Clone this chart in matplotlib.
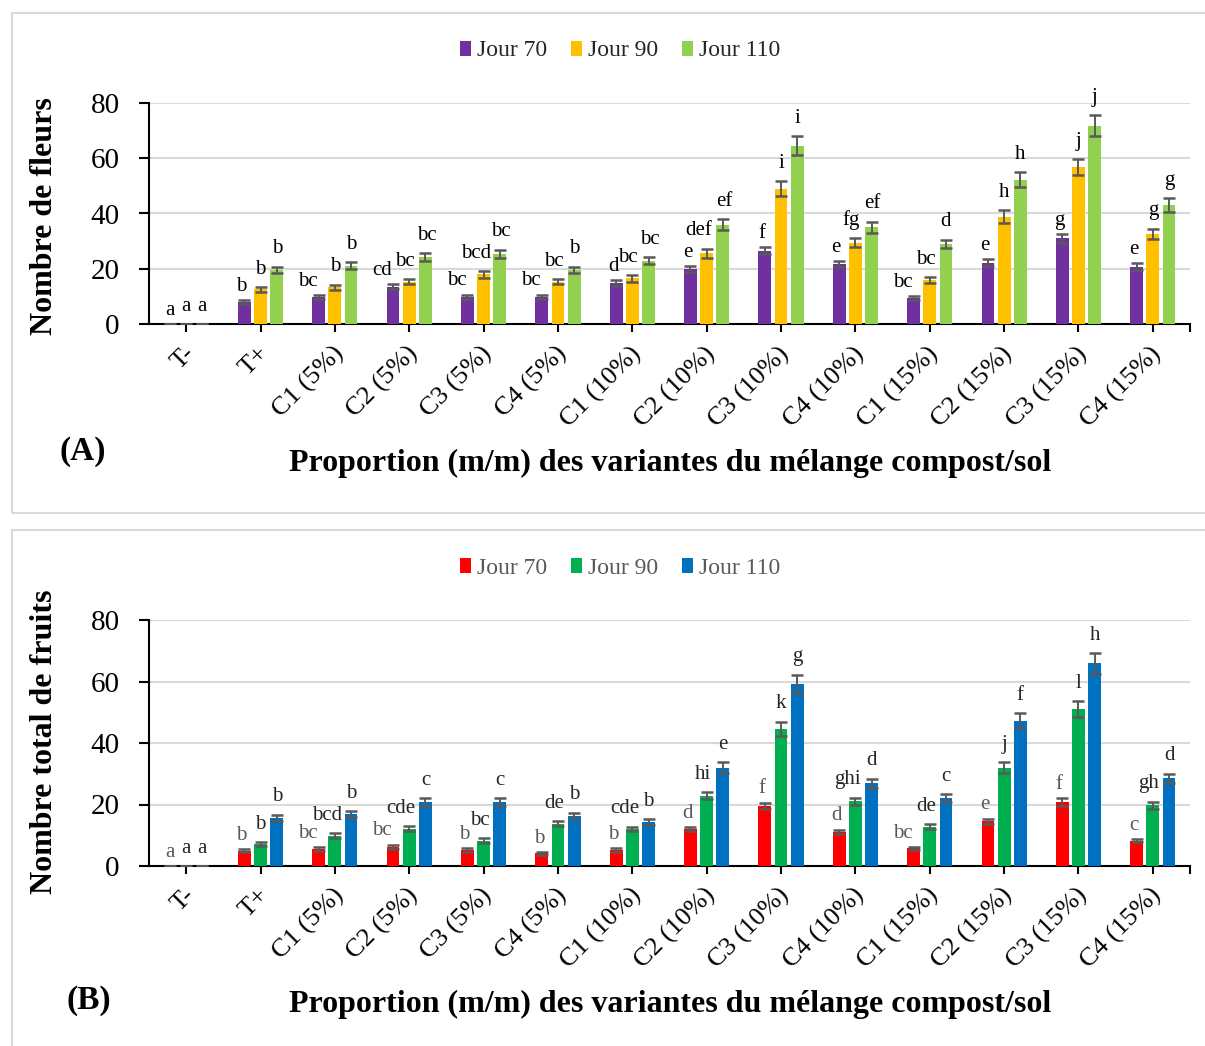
import numpy as np
import matplotlib
matplotlib.use("Agg")
import matplotlib.pyplot as plt
from matplotlib.patches import Rectangle
from matplotlib.transforms import ScaledTranslation

plt.rcParams["font.family"] = ["Liberation Serif", "DejaVu Serif"]

# -----------------------------
# Data
# -----------------------------
categories = ["T-", "T+", "C1 (5%)", "C2 (5%)", "C3 (5%)", "C4 (5%)",
              "C1 (10%)", "C2 (10%)", "C3 (10%)", "C4 (10%)",
              "C1 (15%)", "C2 (15%)", "C3 (15%)", "C4 (15%)"]
series_names = ["Jour 70", "Jour 90", "Jour 110"]

# (A) number of flowers
fleurs_j70 = [0, 8.0, 9.8, 13.6, 10.0, 10.0, 15.0, 20.0, 26.5, 21.7, 9.4, 22.3, 31.0, 20.8]
fleurs_j90 = [0, 12.6, 13.4, 15.4, 18.0, 15.4, 16.6, 25.7, 49.0, 29.5, 16.0, 38.9, 56.7, 32.6]
fleurs_j110 = [0, 19.6, 21.2, 24.2, 25.4, 19.6, 23.0, 35.9, 64.5, 35.0, 29.0, 52.2, 71.7, 43.1]
fleurs_err_j70 = [0, 0.6, 0.6, 0.9, 0.7, 0.7, 1.1, 1.1, 1.3, 1.1, 0.7, 1.2, 1.6, 1.2]
fleurs_err_j90 = [0, 0.85, 0.85, 1.0, 1.2, 1.0, 1.2, 1.6, 2.6, 1.6, 1.1, 2.2, 2.9, 1.9]
fleurs_err_j110 = [0, 1.2, 1.3, 1.45, 1.55, 1.2, 1.3, 2.0, 3.4, 2.0, 1.6, 2.8, 3.9, 2.4]
fleurs_let_j70 = ["a", "b", "bc", "cd", "bc", "bc", "d", "e", "f", "e", "bc", "e", "g", "e"]
fleurs_let_j90 = ["a", "b", "b", "bc", "bcd", "bc", "bc", "def", "i", "fg", "bc", "h", "j", "g"]
fleurs_let_j110 = ["a", "b", "b", "bc", "bc", "b", "bc", "ef", "i", "ef", "d", "h", "j", "g"]

# (B) total number of fruits
fruits_j70 = [0, 5.0, 5.5, 6.3, 5.2, 4.1, 5.2, 12.0, 19.5, 11.2, 5.7, 14.5, 20.8, 8.2]
fruits_j90 = [0, 7.0, 9.9, 12.1, 8.2, 13.7, 12.0, 22.9, 44.6, 21.1, 12.8, 32.0, 51.0, 19.7]
fruits_j110 = [0, 15.7, 16.9, 20.8, 20.8, 16.3, 14.3, 32.0, 59.2, 26.9, 22.0, 47.2, 65.9, 28.5]
fruits_err_j70 = [0, 0.55, 0.55, 0.65, 0.65, 0.55, 0.65, 0.75, 1.1, 0.65, 0.45, 0.9, 1.2, 0.55]
fruits_err_j90 = [0, 0.65, 0.75, 0.85, 0.75, 0.85, 0.75, 1.2, 2.3, 1.1, 0.75, 1.7, 2.6, 1.2]
fruits_err_j110 = [0, 1.0, 1.0, 1.3, 1.3, 1.0, 0.85, 1.7, 3.0, 1.5, 1.3, 2.4, 3.4, 1.5]
fruits_let_j70 = ["a", "b", "bc", "bc", "b", "b", "b", "d", "f", "d", "bc", "e", "f", "c"]
fruits_let_j90 = ["a", "b", "bcd", "cde", "bc", "de", "cde", "hi", "k", "ghi", "de", "j", "l", "gh"]
fruits_let_j110 = ["a", "b", "b", "c", "c", "b", "b", "e", "g", "d", "c", "f", "h", "d"]

colors_a = ["#7030A0", "#FFC000", "#92D050"]
colors_b = ["#FF0000", "#00B050", "#0070C0"]

W, H = 1205, 1046
fig = plt.figure(figsize=(W / 100, H / 100), dpi=100)

# panel frames
for y0, y1 in [(13, 513), (530, 1050)]:
    fig.patches.append(Rectangle((11.5 / W, 1 - y1 / H), (1210 - 11.5) / W, (y1 - y0) / H,
                                 transform=fig.transFigure, fill=False,
                                 edgecolor="#d9d9d9", linewidth=1.5))

# letter nudges per series: (base px, px per extra character, vertical offset in points)
nudge = [(-3, -8, 3), (0, -4, 6), (0, 1, 6)]


def draw_panel(ax, values, errors, letters, colors, letter_colors):
    x = np.arange(len(categories))
    width = 0.172
    step = 0.218
    handles = []
    for i in range(3):
        pos = x + (i - 1) * step
        bars = ax.bar(pos, values[i], width, color=colors[i], zorder=3,
                      label=series_names[i])
        handles.append(bars)
        ax.errorbar(pos, values[i], yerr=errors[i], fmt="none", ecolor="#595959",
                    elinewidth=1.4, capsize=4, capthick=1.8, zorder=4)
        base, per_char, dy = nudge[i]
        for xp, v, e, t in zip(pos, values[i], errors[i], letters[i]):
            dx = (base + per_char * (len(t) - 1)) * 0.72 if v > 0 else 0
            ax.annotate(t, (xp, v + e), xytext=(dx, dy), textcoords="offset points",
                        ha="center", va="bottom", fontsize=15,
                        color=letter_colors[i])

    ax.set_xlim(-0.5, len(categories) - 0.5)
    ax.set_ylim(0, 80)
    ax.set_yticks([0, 20, 40, 60, 80])
    ax.grid(axis="y", color="#d9d9d9", linewidth=1.5, zorder=0)
    ax.set_axisbelow(True)
    for s in ["top", "right"]:
        ax.spines[s].set_visible(False)
    for s in ["left", "bottom"]:
        ax.spines[s].set_linewidth(1.5)
    ax.tick_params(axis="y", direction="out", length=7, width=1.5, pad=14, labelsize=21)
    ax.tick_params(axis="x", direction="out", length=6, width=1.5, pad=7, labelsize=19)
    ax.set_xticks(x)
    ax.set_xticks([len(categories) - 0.5], minor=True)
    ax.tick_params(axis="x", which="minor", direction="out", length=6, width=1.5)
    ax.set_xticklabels(categories, rotation=45, ha="right", rotation_mode="anchor")
    shift = ScaledTranslation(-3 / 100, 0, fig.dpi_scale_trans)
    for lbl in ax.get_xticklabels():
        lbl.set_transform(lbl.get_transform() + shift)
    return handles


ax_a = fig.add_axes([149 / W, 1 - 324.3 / H, 1041 / W, 221.6 / H])
ax_b = fig.add_axes([149 / W, 1 - 866 / H, 1041 / W, 246 / H])

h_a = draw_panel(ax_a, [fleurs_j70, fleurs_j90, fleurs_j110],
                 [fleurs_err_j70, fleurs_err_j90, fleurs_err_j110],
                 [fleurs_let_j70, fleurs_let_j90, fleurs_let_j110],
                 colors_a, ["black", "black", "black"])
h_b = draw_panel(ax_b, [fruits_j70, fruits_j90, fruits_j110],
                 [fruits_err_j70, fruits_err_j90, fruits_err_j110],
                 [fruits_let_j70, fruits_let_j90, fruits_let_j110],
                 colors_b, ["#595959", "#262626", "#262626"])

# legends
for handles, ypix, tcol in [(h_a, 51, "#262626"), (h_b, 568, "#595959")]:
    leg = fig.legend(handles, series_names, loc="center", bbox_to_anchor=(620 / W, 1 - ypix / H),
                     ncol=3, frameon=False, fontsize=17, handlelength=0.47, handleheight=0.6,
                     handletextpad=0.25, columnspacing=1.0, labelcolor=tcol)

# axis titles and panel letters
fig.text(45 / W, 1 - 216.5 / H, "Nombre de fleurs", rotation=90, ha="center", va="center",
         fontsize=23, fontweight="bold")
fig.text(45 / W, 1 - 741.5 / H, "Nombre total de fruits", rotation=90, ha="center", va="center",
         fontsize=23, fontweight="bold")
for ypix in [463, 1004]:
    fig.text(670 / W, 1 - ypix / H, "Proportion (m/m) des variantes du mélange compost/sol",
             ha="center", va="center", fontsize=23, fontweight="bold")
fig.text(83 / W, 1 - 452 / H, "(A)", ha="center", va="center", fontsize=24, fontweight="bold")
fig.text(89 / W, 1 - 1001 / H, "(B)", ha="center", va="center", fontsize=24, fontweight="bold")

fig.savefig("out.png", dpi=100)
